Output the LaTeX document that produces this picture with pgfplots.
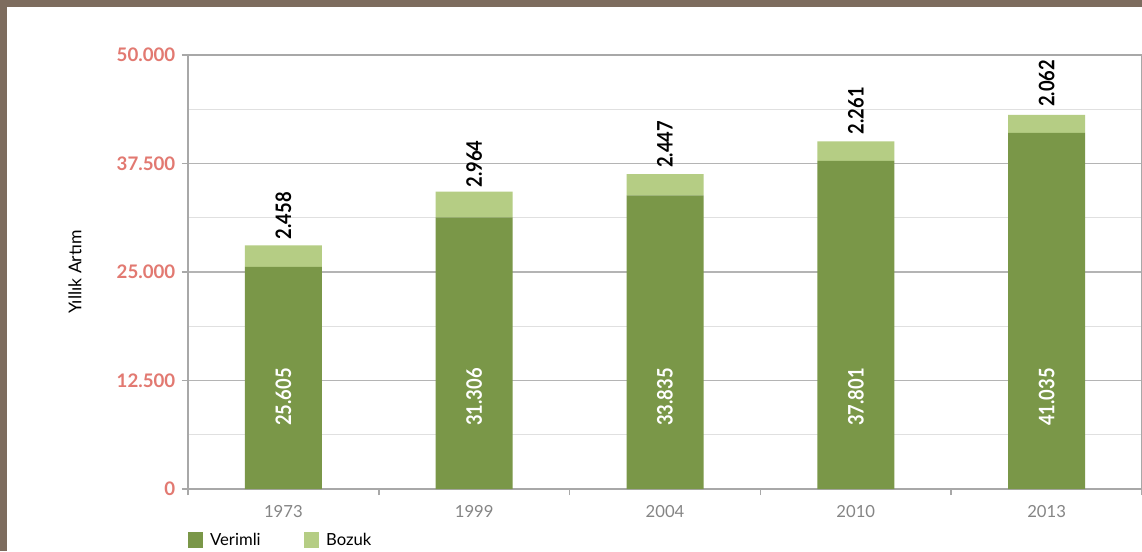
\documentclass[border=0pt]{standalone}
\usepackage{pgfplots}
\usepackage{pgfplotstable}
\pgfplotsset{compat=1.18}
\usepackage{fontspec}
\setmainfont{Lato}
\newfontfamily\condfont[FakeStretch=0.86]{Lato}
\definecolor{brownb}{HTML}{7D6C5E}
\definecolor{vdark}{HTML}{7A9748}
\definecolor{blight}{HTML}{B5CD84}
\definecolor{gridmaj}{HTML}{B4B4B4}
\definecolor{gridmin}{HTML}{E0E0E0}
\definecolor{axcol}{HTML}{A8A8A8}
\definecolor{ticklab}{HTML}{E27971}
\definecolor{xlab}{HTML}{858585}

\pgfplotstableread{
x verimli bozuk
0 25605 2458
1 31306 2964
2 33835 2447
3 37801 2261
4 41035 2062
}\datatable

\pgfplotsset{
  commonaxis/.style={
    at={(141pt,46.5pt)}, anchor=south west,
    width=715.5pt, height=325.5pt, scale only axis,
    xmin=-0.5, xmax=4.5, ymin=0, ymax=50000,
    scaled y ticks=false,
  }
}

\begin{document}
\begin{tikzpicture}[x=1pt,y=1pt]
\useasboundingbox (0,0) rectangle (856.5,413.25);
\fill[white] (0,0) rectangle (856.5,413.25);
\fill[brownb] (0,408.2) rectangle (856.5,413.25);
\fill[brownb] (0,0) rectangle (5.25,413.25);

\begin{axis}[commonaxis,
  ybar stacked, bar width=57.75pt,
  xtick={0,1,2,3,4}, xticklabels={1973,1999,2004,2010,2013},
  minor xtick={-0.5,0.5,1.5,2.5,3.5,4.5},
  ytick={0,12500,25000,37500,50000},
  yticklabels={0,12.500,25.000,37.500,50.000},
  minor ytick={6250,18750,31250,43750},
  ymajorgrids, yminorgrids,
  major grid style={draw=gridmaj, line width=1.1pt},
  minor grid style={draw=gridmin, line width=1.1pt},
  tick align=outside, major tick length=4.5pt, minor tick length=4.5pt,
  xtick pos=bottom, ytick pos=left,
  major x tick style={draw=none},
  minor y tick style={draw=none},
  minor x tick style={draw=axcol, line width=1.1pt},
  major y tick style={draw=axcol, line width=1.1pt},
  axis line style={draw=axcol, line width=1.1pt},
  yticklabel style={font=\bfseries\fontsize{14}{14}\selectfont, text=ticklab, xshift=-1.5pt},
  xticklabel style={font=\fontsize{12.5}{12.5}\selectfont, text=xlab, yshift=-4pt},
  ylabel={Yıllık Artım},
  every axis y label/.style={at={(axis description cs:-0.1184,0.5)}, rotate=90, anchor=center,
    font=\fontsize{13.2}{13.2}\selectfont},
  legend style={at={(axis description cs:0,0)}, anchor=north west, yshift=-31pt,
    draw=none, fill=none, inner sep=0pt, outer sep=0pt,
    font=\fontsize{12.5}{12.5}\selectfont,
    legend columns=2,
    /tikz/every odd column/.append style={column sep=3pt},
    /tikz/every even column/.append style={column sep=30.5pt},
    legend cell align=left},
  legend image code/.code={\fill[#1] (0pt,-5.8pt) rectangle (11.6pt,5.8pt);},
]
\addplot[fill=vdark, draw=none] table[x=x, y=verimli] {\datatable};
\addlegendentry{Verimli}
\addplot[fill=blight, draw=none,
  nodes near coords,
  /pgf/number format/.cd, fixed, precision=0, 1000 sep={.}, assume math mode=true, /pgfplots/.cd,
  nodes near coords style={yshift=8pt, rotate=90, anchor=west, text=black, inner sep=4.5pt,
    font=\condfont\bfseries\fontsize{16}{16}\selectfont},
  ] table[x=x, y=bozuk] {\datatable};
\addlegendentry{Bozuk}
\end{axis}

\begin{axis}[commonaxis, axis lines=none, ticks=none]
\addplot[draw=none, mark=none, nodes near coords, point meta=explicit,
  /pgf/number format/.cd, fixed, precision=0, 1000 sep={.}, assume math mode=true, /pgfplots/.cd,
  nodes near coords style={rotate=90, anchor=center, text=white, inner sep=0pt,
    font=\condfont\bfseries\fontsize{16}{16}\selectfont},
  ] table[x=x, y expr=10600, meta=verimli] {\datatable};
\end{axis}
\end{tikzpicture}
\end{document}
